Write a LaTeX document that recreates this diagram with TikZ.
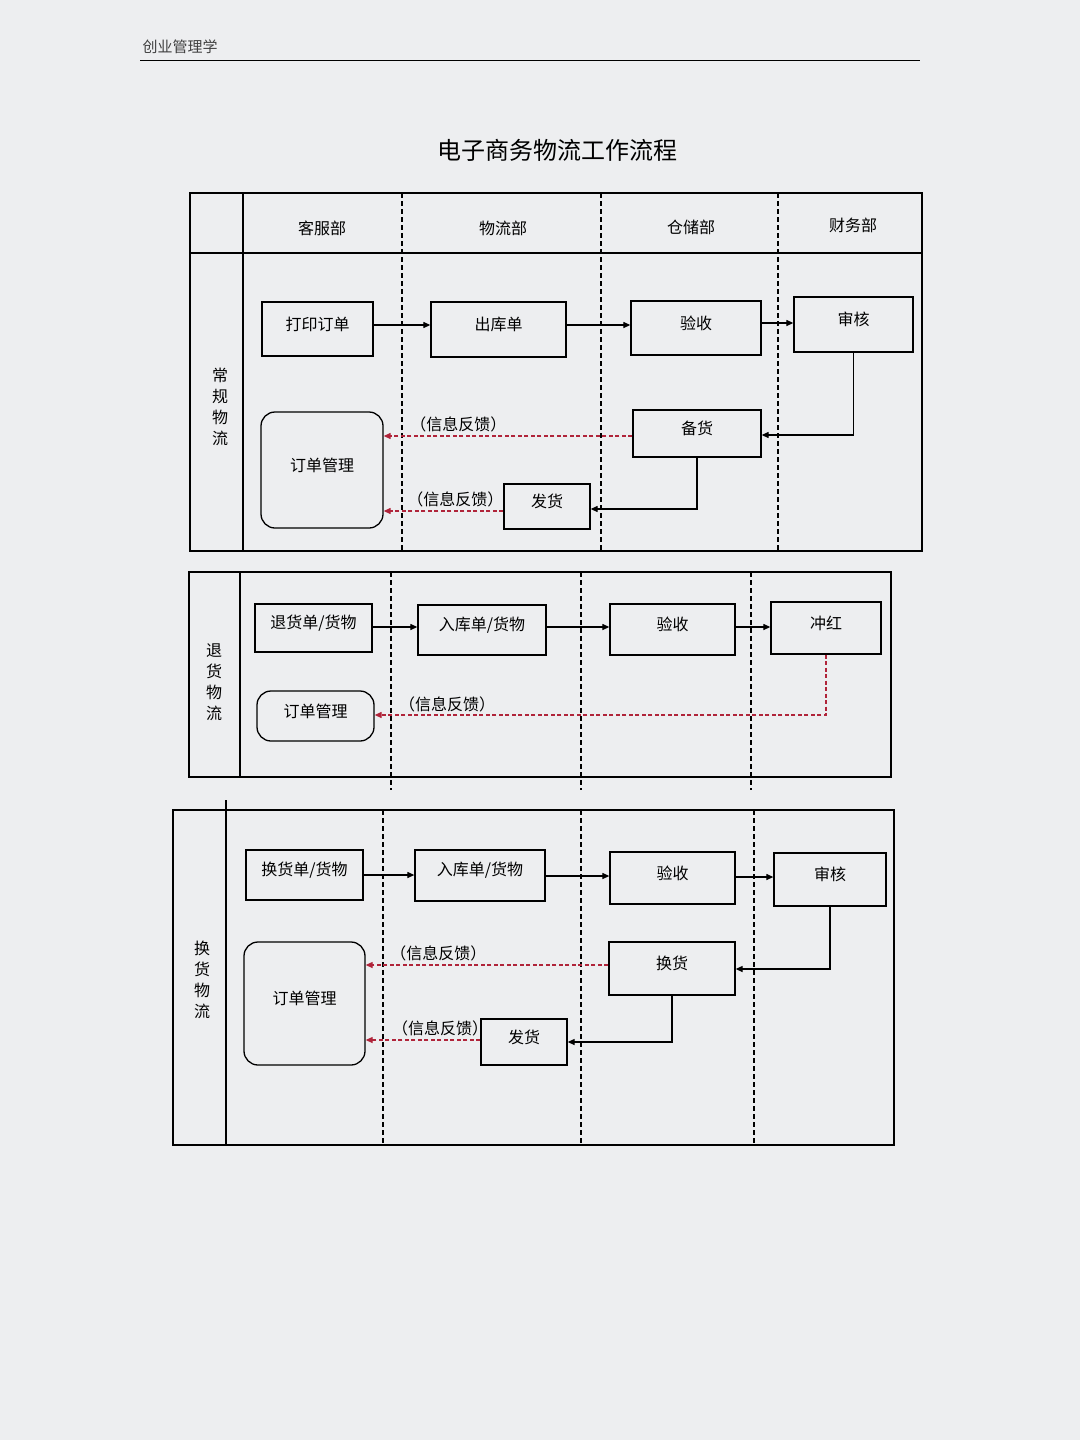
\documentclass[tikz,border=0pt]{standalone}
\usepackage{fontspec}
\setmainfont{Noto Sans CJK SC}
\usetikzlibrary{fit,arrows.meta}
\definecolor{pg}{HTML}{EDEEF0}
\definecolor{fb}{HTML}{B0243A}
\tikzset{
 box/.style={draw,line width=1.3pt,inner sep=0pt},
 rbox/.style={box,rounded corners=14pt},
 flow/.style={-{Triangle[length=7pt,width=6pt]},line width=1.2pt},
 fbk/.style={-{Triangle[length=7pt,width=6pt]},line width=1.2pt,dash pattern=on 4pt off 2.5pt,color=fb},
 lane/.style={line width=1.2pt,dash pattern=on 5pt off 3pt},
 frame/.style={line width=1.4pt},
 t/.style={font=\fontsize{16}{18}\selectfont},
 vt/.style={font=\fontsize{16}{21}\selectfont,align=center}
}
\newcommand{\bx}[5][box]{\node[#1,fit={#3 #4},label={[t,yshift=5pt]center:#5}] (#2) {};}
\begin{document}
\begin{tikzpicture}[x=1pt,y=-1pt]
\fill[pg] (0,0) rectangle (1080,1440);
\useasboundingbox (0,0) rectangle (1080,1440);
\node[font=\fontsize{15}{17}\selectfont,color=black!75] (hdr) at (180,47) {创业管理学};
\draw[line width=1pt] (140,60) -- (920,60);
\node[font=\fontsize{24}{28}\selectfont] (title) at (557,150) {电子商务物流工作流程};
% ---------- section 1
\draw[frame] (190,193) rectangle (922,551);
\draw[frame] (190,253) -- (922,253);
\draw[frame] (243,193) -- (243,551);
\foreach \x in {402,601,778} \draw[lane] (\x,193) -- (\x,551);
\node[t] (h1) at (322,228) {客服部};
\node[t] (h2) at (503,228) {物流部};
\node[t] (h3) at (691,227) {仓储部};
\node[t] (h4) at (853,225) {财务部};
\node[vt] (l1) at (220,407) {常\\规\\物\\流};
\bx{a1}{(262,302)}{(373,356)}{打印订单}
\bx{a2}{(431,302)}{(566,357)}{出库单}
\bx{a3}{(631,301)}{(761,355)}{验收}
\bx{a4}{(794,297)}{(913,352)}{审核}
\bx{a5}{(633,410)}{(761,457)}{备货}
\bx[rbox]{a6}{(261,412)}{(383,528)}{订单管理}
\bx{a7}{(504,484)}{(590,529)}{发货}
\draw[flow] (a1.east|-0,325) -- (a2.west|-0,325);
\draw[flow] (a2.east|-0,325) -- (a3.west|-0,325);
\draw[flow] (a3.east|-0,323) -- (a4.west|-0,323);
\draw[flow] (a4.south) |- (a5.east|-0,435);
\draw[flow] (a5.south) |- (a7.east|-0,509);
\draw[fbk] (a5.west|-0,436) -- (a6.east|-0,436) node[pos=0.7,above,t,text=black] {（信息反馈）};
\draw[fbk] (a7.west|-0,511) -- (a6.east|-0,511) node[pos=0.4,above,t,text=black] {（信息反馈）};
% ---------- section 2
\draw[frame] (189,572) -- (891,572) -- (891,777) -- (189,777) -- cycle;
\draw[frame] (240,572) -- (240,777);
\foreach \x in {391,581,751} \draw[lane] (\x,572) -- (\x,790);
\node[vt] (l2) at (214,682) {退\\货\\物\\流};
\bx{b1}{(255,604)}{(372,652)}{退货单/货物}
\bx{b2}{(418,605)}{(546,655)}{入库单/货物}
\bx{b3}{(610,604)}{(735,655)}{验收}
\bx{b4}{(771,602)}{(881,654)}{冲红}
\bx[rbox]{b5}{(257,691)}{(374,741)}{订单管理}
\draw[flow] (b1.east|-0,627) -- (b2.west|-0,627);
\draw[flow] (b2.east|-0,627) -- (b3.west|-0,627);
\draw[flow] (b3.east|-0,627) -- (b4.west|-0,627);
\draw[fbk] (b4.south) |- (b5.east|-0,715);
\node[t] (fb3) at (447,704) {（信息反馈）};
% ---------- section 3
\draw[frame] (173,810) rectangle (894,1145);
\draw[frame] (226,800) -- (226,1145);
\foreach \x in {383,581,754} \draw[lane] (\x,810) -- (\x,1145);
\node[vt] (l3) at (202,980) {换\\货\\物\\流};
\bx{c1}{(246,850)}{(363,900)}{换货单/货物}
\bx{c2}{(415,850)}{(545,901)}{入库单/货物}
\bx{c3}{(610,852)}{(735,904)}{验收}
\bx{c4}{(774,853)}{(886,906)}{审核}
\bx{c5}{(609,942)}{(735,995)}{换货}
\bx[rbox]{c6}{(244,942)}{(365,1065)}{订单管理}
\bx{c7}{(481,1019)}{(567,1065)}{发货}
\draw[flow] (c1.east|-0,875) -- (c2.west|-0,875);
\draw[flow] (c2.east|-0,876) -- (c3.west|-0,876);
\draw[flow] (c3.east|-0,877) -- (c4.west|-0,877);
\draw[flow] (c4.south) |- (c5.east|-0,969);
\draw[flow] (c5.south) |- (c7.east|-0,1042);
\draw[fbk] (c5.west|-0,965) -- (c6.east|-0,965) node[pos=0.7,above,t,text=black] {（信息反馈）};
\draw[fbk] (c7.west|-0,1040) -- (c6.east|-0,1040) node[pos=0.35,above,t,text=black] {（信息反馈）};
\end{tikzpicture}
\end{document}
